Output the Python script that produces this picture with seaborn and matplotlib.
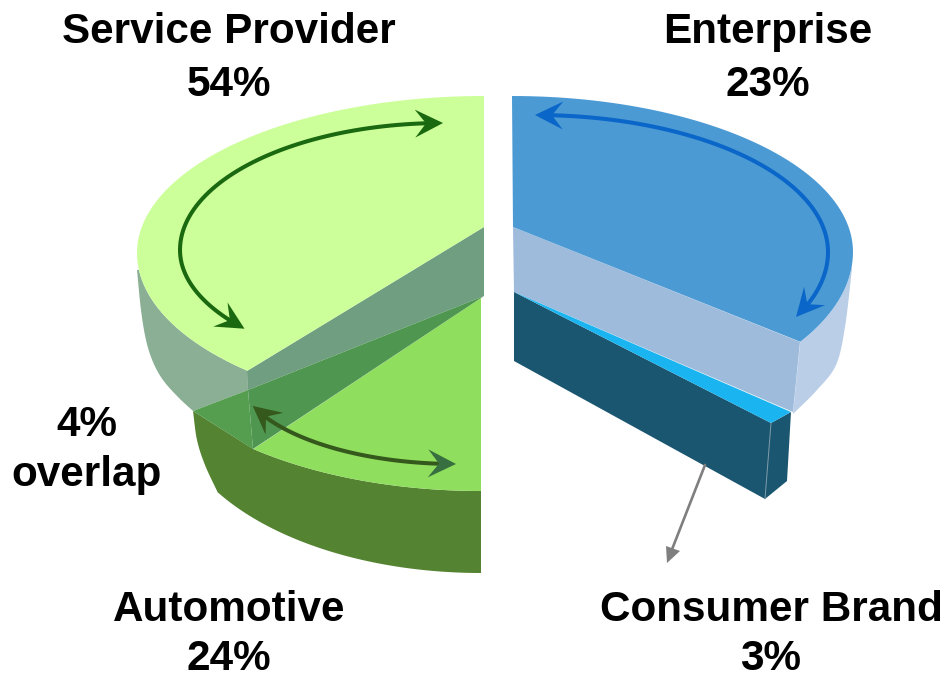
"""
3D split pie of market segments, drawn on a pixel-sized canvas.
"""

import numpy as np
import matplotlib.pyplot as plt
import seaborn as sns

segments = ["Service Provider", "Enterprise", "Automotive", "Consumer Brand"]
shares = [54, 23, 24, 3]
overlap_share = 4

TEXT_SIZE = 30.4


def arc(cx, cy, rx, ry_top, ry_low, t0, t1, n=80):
    """Points along a squashed ellipse, screen coords (y goes down)."""
    t = np.radians(np.linspace(t0, t1, n))
    ry = np.where(np.sin(t) > 0, ry_top, ry_low)
    return np.column_stack([cx + rx * np.cos(t), cy - ry * np.sin(t)])


def smooth(pts, n=12):
    """Catmull-Rom curve through a few outline points."""
    p = np.array(pts, dtype=float)
    p = np.vstack([2 * p[0] - p[1], p, 2 * p[-1] - p[-2]])
    out = []
    for i in range(1, len(p) - 2):
        for s in np.linspace(0, 1, n, endpoint=False):
            out.append(0.5 * (2 * p[i] + (p[i + 1] - p[i - 1]) * s
                              + (2 * p[i - 1] - 5 * p[i] + 4 * p[i + 1] - p[i + 2]) * s ** 2
                              + (3 * p[i] - p[i - 1] - 3 * p[i + 1] + p[i + 2]) * s ** 3))
    out.append(p[-2])
    return np.array(out)


def face(ax, color, *parts):
    pts = np.vstack([np.atleast_2d(p) for p in parts])
    ax.fill(pts[:, 0], pts[:, 1], color=color, linewidth=0)


def curved_arrow(ax, pts, color, lw=2.9, start_color=None):
    """Line through pts with a notched head on both ends."""
    for path, col in [(pts, color), (pts[::-1], start_color or color)]:
        tip = path[-1]
        dist = np.hypot(*(path - tip).T)
        back = path[np.argmax(dist < 24)]
        d = (tip - back) / np.hypot(*(tip - back))
        n = np.array([-d[1], d[0]])
        head = np.array([tip, tip - 28 * d + 14 * n, tip - 17 * d, tip - 28 * d - 14 * n])
        ax.fill(head[:, 0], head[:, 1], color=col, linewidth=0, zorder=3)
    # stop the line short of the tips
    dist_end = np.hypot(*(pts - pts[-1]).T)
    dist_start = np.hypot(*(pts - pts[0]).T)
    line = pts[(dist_end > 14) & (dist_start > 14)]
    sns.lineplot(x=line[:, 0], y=line[:, 1], sort=False, estimator=None,
                 color=color, linewidth=lw, ax=ax, legend=False)


sns.set_theme(style="white")
plt.rcParams["font.family"] = ["Liberation Sans", "DejaVu Sans"]

fig, ax = plt.subplots(figsize=(9.5, 6.79), dpi=100)
fig.subplots_adjust(left=0, right=1, top=1, bottom=0)

# Automotive slice
auto_rim = arc(481, 320, 347, 171, 171, 229, 270)
face(ax, "#548331", [[193, 411]], auto_rim, [[481, 573]],
     arc(481, 402, 310, 171, 171, 270, 212),
     smooth([(218, 493), (205, 465), (197, 440), (193, 411)]))
face(ax, "#90DE5E", [[481, 298]], auto_rim)

# Service Provider slice, its see-through faces lie over Automotive
service_top = arc(484, 253, 347, 157, 161, 90, 227)
face(ax, "#8AAF94", arc(484, 253, 347, 157, 161, 186, 227), [[248, 390]],
     smooth([(193, 411), (178, 397), (163, 380), (153, 362), (146, 340), (141, 310), (137, 270)]))
face(ax, "#709E80", [[484, 227], [247, 371], [248, 390], [484, 296]])
face(ax, "#559E50", [[193, 411], [248, 390], [253, 449]])
face(ax, "#4F9650", [[248, 390], [484, 296], [481, 298], [253, 449]])
face(ax, "#CCFF99", service_top, [[484, 227]])

# Enterprise slice
ent_top = arc(512, 252, 341, 156, 168, 90, -32.3)
face(ax, "#BACEE8", arc(512, 252, 341, 156, 168, -5, -32.3),
     smooth([(793, 414), (817, 390), (836, 365), (845, 327), (852, 269)]))
face(ax, "#9EBBDC", [[513, 227], [800, 342], [793, 412], [514, 292]])
face(ax, "#4C9AD4", ent_top, [[513, 227]])

# Consumer Brand slice
face(ax, "#1B5671", [[514, 292], [771, 423], [791, 412], [787, 481], [765, 499], [514, 361]])
face(ax, "#1AB5F0", [[514, 292], [791, 412], [771, 423]])
ax.plot([771, 765], [423, 499], color="#7F9DAB", linewidth=0.7)

# Span arrows on the slices
curved_arrow(ax, arc(443, 250, 263, 127, 120, 90, 221), "#1A680F")
curved_arrow(ax, arc(535, 252, 293, 137, 143, 90, -27), "#0A66C8")
curved_arrow(ax, arc(456, 370, 220, 94, 94, 270, 202.5), "#35581C",
             start_color="#386F40")

# Leader to the Consumer Brand label
ax.plot([705, 671], [465, 552], color="#7F7F7F", linewidth=1.9)
ax.fill([667, 666, 680], [563, 546, 551], color="#7F7F7F", linewidth=0)

# Labels, y values are baselines
label_pos = {
    "Service Provider": (229, 43, 96),
    "Enterprise": (768, 43, 96),
    "Automotive": (229, 621, 670),
    "Consumer Brand": (771, 621, 670),
}
text_style = dict(ha="center", va="baseline", fontsize=TEXT_SIZE, fontweight="bold", color="black")
for name, share in zip(segments, shares):
    x, y_name, y_val = label_pos[name]
    ax.text(x, y_name, name, **text_style)
    ax.text(x, y_val, f"{share}%", **text_style)
ax.text(87, 436, f"{overlap_share}%", **text_style)
ax.text(87, 486, "overlap", **text_style)

ax.set_xlim(0, 950)
ax.set_ylim(679, 0)
ax.set_axis_off()
fig.savefig("out.png", dpi=100)
plt.close(fig)
